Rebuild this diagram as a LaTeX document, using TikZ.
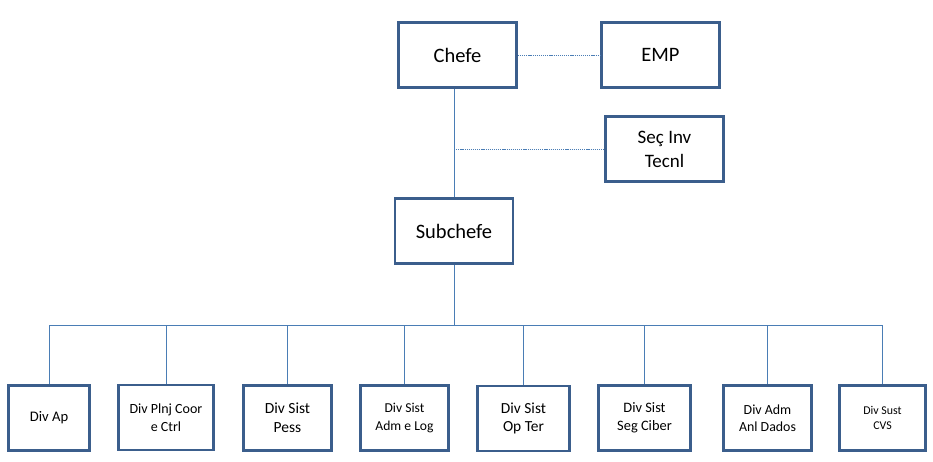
\documentclass[tikz,border=0pt]{standalone}
\usepackage{fontspec}
\setmainfont{Carlito}
\definecolor{boxline}{HTML}{3B5E8C}
\definecolor{wireline}{HTML}{4A7DB5}

\begin{document}
\begin{tikzpicture}[x=1pt,y=-1pt,
    box/.style={draw=boxline, line width=2.6pt, fill=white, align=center,
      inner sep=0pt, minimum width=118pt, minimum height=65pt},
    divbox/.style={box, minimum height=65pt},
    wire/.style={draw=wireline, line width=0.9pt},
    dotwire/.style={draw=wireline, line width=1pt, dash pattern=on 1.2pt off 0.9pt}]
  \useasboundingbox (0,0) rectangle (933,461);

  \node[box, font=\fontsize{20.5}{24.6}\selectfont] (chefe) at (457.5,55) {Chefe};
  \node[box, font=\fontsize{20.5}{24.6}\selectfont] (emp) at (660.5,55) {EMP};
  \node[box, font=\fontsize{19}{24}\selectfont] (sec) at (664.5,149) {Seç Inv\\Tecnl};
  \node[box, font=\fontsize{20.5}{24.6}\selectfont] (sub) at (454,231) {Subchefe};

  \node[divbox, minimum width=81pt, font=\fontsize{14.6}{17.5}\selectfont] (ap) at (49,418) {Div Ap};
  \node[divbox, minimum width=95pt, font=\fontsize{14}{18}\selectfont] (plnj) at (166,417.5) {Div Plnj Coor\\e Ctrl};
  \node[divbox, minimum width=88pt, font=\fontsize{15.5}{18.6}\selectfont] (pess) at (287.5,418) {Div Sist\\Pess};
  \node[divbox, minimum width=88pt, font=\fontsize{13.6}{17.5}\selectfont] (admlog) at (404.5,418) {Div Sist\\Adm e Log};
  \node[divbox, minimum width=92pt, font=\fontsize{15.4}{18.6}\selectfont] (opter) at (523.5,418.5) {Div Sist\\Op Ter};
  \node[divbox, minimum width=92pt, font=\fontsize{14.4}{17.5}\selectfont] (ciber) at (644.5,418) {Div Sist\\Seg Ciber};
  \node[divbox, minimum width=88pt, font=\fontsize{13.9}{17.5}\selectfont] (dados) at (767.5,418) {Div Adm\\Anl Dados};
  \node[divbox, minimum width=86pt, font=\fontsize{11.9}{15}\selectfont] (cvs) at (882.5,418) {Div Sust\\CVS};

  \coordinate (bus) at (454,325);

  % linha de comando
  \draw[wire] (sub.north) -- (sub.north |- chefe.south);
  \draw[wire] (sub.south) -- (bus);
  \foreach \d in {ap,plnj,pess,admlog,opter,ciber,dados,cvs}
    \draw[wire] (bus) -| (\d.north);

  % assessoria
  \draw[dotwire] (chefe.east) -- (emp.west);
  \draw[dotwire] (sub.north |- sec.west) -- (sec.west);
\end{tikzpicture}
\end{document}
